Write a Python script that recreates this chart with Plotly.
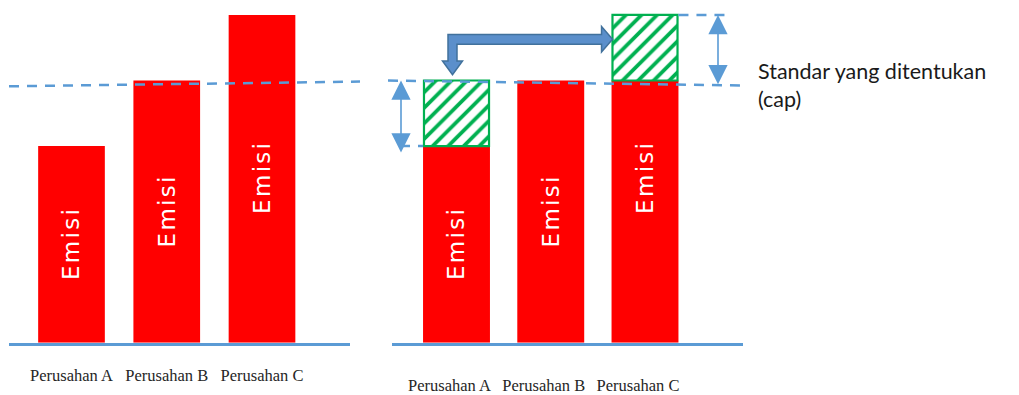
import plotly.graph_objects as go

# ---- data -------------------------------------------------------------
perusahan = ["Perusahan A", "Perusahan B", "Perusahan C"]
emisi = [75, 100, 125]          # actual emissions per company
cap = 100                       # allowed standard (cap)
label_bar = "E\u200am\u200ai\u200as\u200ai"
keterangan = "Standar yang ditentukan<br>(cap)"

# right panel: emission up to the cap (red) and the gap to the cap (hatched)
emisi_dalam_cap = [min(e, cap) for e in emisi]
selisih_cap = [abs(e - cap) for e in emisi]

# ---- geometry (pixels of the 1019x395 canvas) ---------------------------
W, H = 1019, 395
BASE_PX = 349
Y_MAX = 130.7
PPU = BASE_PX / Y_MAX           # pixels per value unit

LEFT = dict(d0=9, d1=350, c0=71.5, sp=95.25)
RIGHT = dict(d0=392, d1=743, c0=456.5, sp=94.25)
BAR_W = [0.70, 0.71]

BLUE = "#5B9BD5"
RED = "#FF0000"
GREEN = "#00B050"


def xr(ax, px):
    """pixel x -> data x on the given panel axis"""
    return (px - ax["c0"]) / ax["sp"]


def yv(py):
    """pixel y -> value"""
    return (BASE_PX - py) / PPU


def axis_range(ax):
    return [xr(ax, ax["d0"]), xr(ax, ax["d1"])]


idx = list(range(len(perusahan)))

fig = go.Figure()

# left panel: plain emissions
fig.add_trace(go.Bar(x=idx, y=emisi, width=BAR_W[0], marker_color=RED,
                     marker_line_width=0, xaxis="x", yaxis="y",
                     hoverinfo="skip", showlegend=False))

# right panel: emissions capped + hatched difference to the cap
fig.add_trace(go.Bar(x=idx, y=emisi_dalam_cap, width=BAR_W[1], marker_color=RED,
                     marker_line_width=0, xaxis="x2", yaxis="y",
                     hoverinfo="skip", showlegend=False))
fig.add_trace(go.Bar(x=idx, y=[s if s > 0 else None for s in selisih_cap],
                     base=emisi_dalam_cap, width=BAR_W[1] - 0.02,
                     marker=dict(color="white",
                                 line=dict(color=GREEN, width=2.2),
                                 pattern=dict(shape="/", fgcolor=GREEN, bgcolor="white",
                                              size=11, solidity=0.34, fillmode="replace")),
                     xaxis="x2", yaxis="y", hoverinfo="skip", showlegend=False))

# vertical "Emisi" labels centred on each emission bar
annotations = []
for xa in ("x", "x2"):
    for i, e in zip(idx, emisi):
        annotations.append(dict(x=i, y=e / 2, xref=xa, yref="y", text=label_bar,
                                textangle=-90, showarrow=False,
                                font=dict(family="DejaVu Sans", size=23,
                                          color="white"),
                                xanchor="center", yanchor="middle"))

shapes = []
dash = "10px,8px"

# cap line, left panel
shapes.append(dict(type="line", xref="paper", yref="y", x0=9 / W, x1=360 / W,
                   y0=cap - 2.2, y1=cap - 0.4, line=dict(color=BLUE, width=2.5, dash=dash)))
# cap line, right panel
shapes.append(dict(type="line", xref="paper", yref="y", x0=388 / W, x1=745 / W,
                   y0=cap, y1=cap - 1.9, line=dict(color=BLUE, width=2.5, dash=dash)))
# guide at company A emission
a_left = idx[0] - BAR_W[1] / 2
shapes.append(dict(type="line", xref="x2", yref="y", x0=xr(RIGHT, 382), x1=a_left,
                   y0=emisi[0], y1=emisi[0], line=dict(color=BLUE, width=2.5, dash=dash)))
# guide at company C emission
c_right = idx[2] + BAR_W[1] / 2
shapes.append(dict(type="line", xref="x2", yref="y", x0=c_right, x1=xr(RIGHT, 727),
                   y0=emisi[2], y1=emisi[2], line=dict(color=BLUE, width=2.5, dash=dash)))

# double-headed measuring arrows
for px_x, y_top, y_bot in ((401, cap, emisi[0] - 3), (718, emisi[2], cap - 2)):
    xx = xr(RIGHT, px_x)
    annotations.append(dict(x=xx, y=y_top, ax=xx, ay=y_bot, xref="x2", yref="y",
                            axref="x2", ayref="y", text="", showarrow=True,
                            arrowhead=2, startarrowhead=2, arrowside="end+start",
                            arrowwidth=1.6, arrowsize=2.4, startarrowsize=2.4,
                            arrowcolor=BLUE, standoff=0, startstandoff=0))

# block elbow arrow: allowance moves from company A to company C
c_left_px = RIGHT["c0"] + RIGHT["sp"] * (idx[2] - BAR_W[1] / 2)
a_ctr_px = RIGHT["c0"] - 4
shaft_y = 40
pts_px = [
    (a_ctr_px - 4.5, shaft_y - 5), (c_left_px - 10, shaft_y - 5),
    (c_left_px - 10, shaft_y - 13), (c_left_px + 1, shaft_y),
    (c_left_px - 10, shaft_y + 13), (c_left_px - 10, shaft_y + 5),
    (a_ctr_px + 4.5, shaft_y + 5), (a_ctr_px + 4.5, 62),
    (a_ctr_px + 10, 62), (a_ctr_px, 76), (a_ctr_px - 10, 62),
    (a_ctr_px - 4.5, 62),
]
path = "M " + " L ".join(f"{xr(RIGHT, px):.4f},{yv(py):.4f}" for px, py in pts_px) + " Z"
shapes.append(dict(type="path", xref="x2", yref="y", path=path,
                   fillcolor="#5B8FCB", line=dict(color="#41719C", width=1.5)))

# legend text for the cap
annotations.append(dict(x=756 / W, y=(H - 87) / H, xref="paper", yref="paper",
                        text=keterangan, showarrow=False, align="left",
                        xanchor="left", yanchor="middle",
                        font=dict(family="Lato", size=21.5, color="#1a1a1a")))

tick_font = dict(family="Liberation Serif", size=16.5, color="#262626")
common_x = dict(tickmode="array", tickvals=idx, ticktext=perusahan, showgrid=False,
                zeroline=False, showline=True, linecolor=BLUE, linewidth=2.5,
                ticks="", tickfont=tick_font, fixedrange=True)

fig.update_layout(
    width=W, height=H,
    margin=dict(l=0, r=0, t=0, b=0),
    paper_bgcolor="white", plot_bgcolor="white",
    barmode="overlay",
    xaxis=dict(domain=[LEFT["d0"] / W, LEFT["d1"] / W], range=axis_range(LEFT),
               ticklabelstandoff=16, **common_x),
    xaxis2=dict(domain=[RIGHT["d0"] / W, RIGHT["d1"] / W], range=axis_range(RIGHT),
                anchor="y", ticklabelstandoff=26, ticklabelshift=-7, **common_x),
    yaxis=dict(domain=[(H - BASE_PX) / H, 1], range=[0, Y_MAX], visible=False,
               fixedrange=True),
    shapes=shapes,
    annotations=annotations,
    showlegend=False,
)

fig.write_html("out.html", config={"displayModeBar": False})
